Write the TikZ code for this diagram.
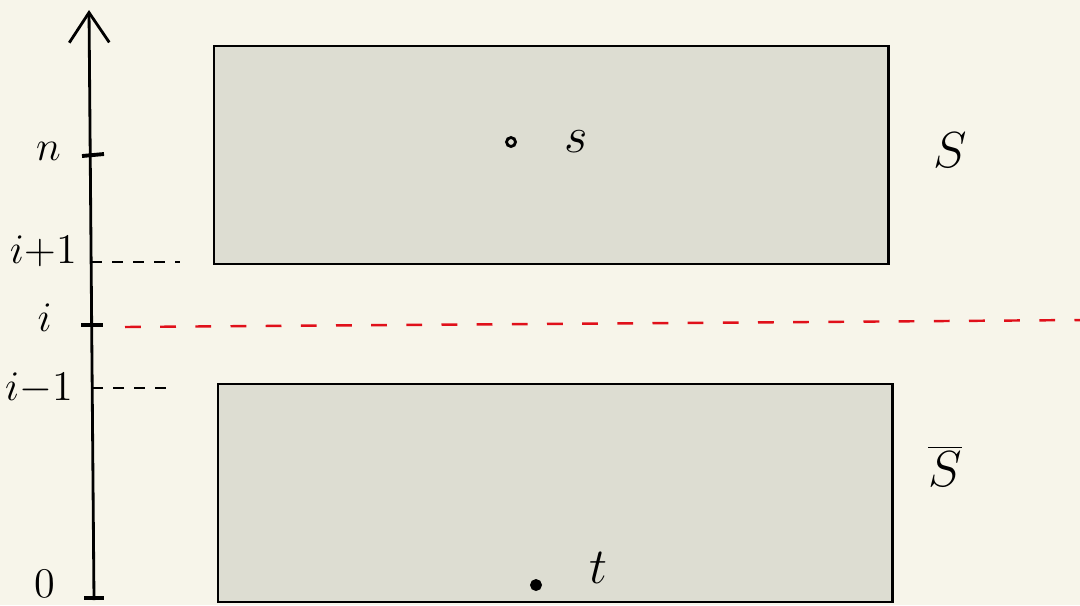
\documentclass[tikz,border=0pt]{standalone}
\usetikzlibrary{positioning, arrows.meta, calc}
\definecolor{paper}{HTML}{F7F5EA}
\definecolor{boxgray}{HTML}{DDDDD2}
\definecolor{cutred}{HTML}{E0101A}

\begin{document}
\begin{tikzpicture}[
    x=0.01cm, y=-0.01cm, every node/.style={font=\Large},
    region/.style={draw, fill=boxgray, line width=0.6pt, minimum width=6.74cm, minimum height=2.18cm, anchor=north west, inner sep=0pt},
    dot/.style={circle, draw, line width=0.8pt, inner sep=0pt, minimum size=0.09cm},
    tick/.style={line width=1.1pt},
    axislabel/.style={font=\large, inner sep=1pt},
    level/.style={line width=0.7pt, dash pattern=on 3pt off 3pt},
    cut/.style={cutred, line width=0.7pt, dash pattern=on 4.5pt off 5.5pt}
  ]
  \fill[paper] (0,0) rectangle (1080,605);
  \useasboundingbox (0,0) rectangle (1080,605);

  % the two sides of the cut
  \node[region] (S)  at (213,45)  {};
  \node[region] (Sb) at (217,383) {};
  \node at (950,150) {$S$};
  \node at (945,466) {$\overline{S}$};

  % source and sink
  \node[dot] (s) at (511,142) {};
  \node[right=0.35cm of s] {$s$};
  \node[dot, fill] (t) at (536,585) {};
  \node[right=0.35cm of t, yshift=5pt] {$t$};

  % distance axis
  \coordinate (bot) at (94,600);
  \coordinate (top) at (89,10);
  \draw[line width=0.8pt, -{Straight Barb[length=3mm, width=4mm, line width=0.8pt]}] (bot) -- (top);

  \coordinate (yn)  at (90,155);
  \coordinate (yi1) at (91,262);
  \coordinate (yi)  at (91,325);
  \coordinate (yim) at (92,388);
  \coordinate (y0)  at (94,598);
  \draw[tick] ($(yn)+(-8,1)$) -- ($(yn)+(14,-1)$);
  \draw[tick] ($(yi)+(-10,0)$) -- ($(yi)+(12,0)$);
  \draw[tick] ($(y0)+(-10,0)$) -- ($(y0)+(10,0)$);

  \node[axislabel, left=0.25cm of yn, yshift=1pt]  {$n$};
  \node[axislabel, left=0.1cm of yi1, yshift=3pt] {$i{+}1$};
  \node[axislabel, left=0.35cm of yi, yshift=2pt]  {$i$};
  \node[axislabel, left=0.15cm of yim] {$i{-}1$};
  \node[axislabel, left=0.35cm of y0, yshift=4pt]  {$0$};

  \draw[level] (yi1) -- (180,262);
  \draw[level] (yim) -- (176,388);
  \draw[cut] (125,327) -- (1080,320);
\end{tikzpicture}
\end{document}
